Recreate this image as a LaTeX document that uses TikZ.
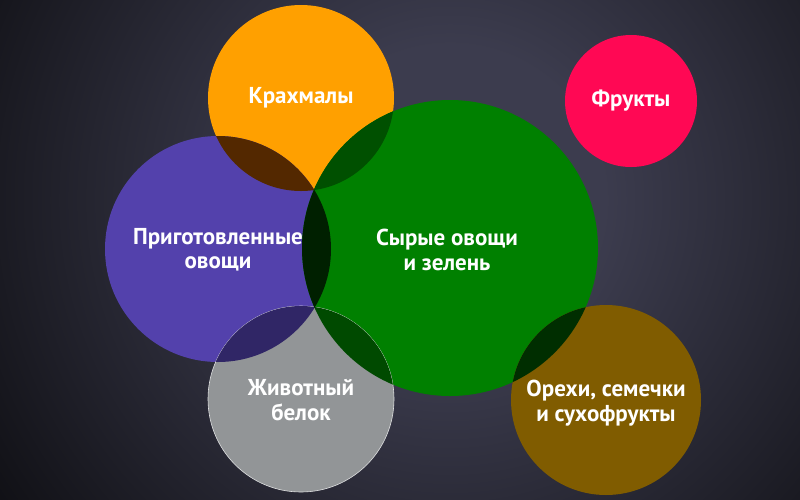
\documentclass[tikz,border=0pt]{standalone}
\usepackage{fontspec}
\setmainfont{PT Sans}
\usepackage{tikz}
\usetikzlibrary{positioning}

\definecolor{bgglow}{RGB}{60,60,78}
\definecolor{cstarch}{RGB}{255,160,0}
\definecolor{cfruit}{RGB}{255,8,84}
\definecolor{ccooked}{RGB}{83,65,172}
\definecolor{craw}{RGB}{0,128,0}
\definecolor{cprotein}{RGB}{146,149,151}
\definecolor{cnuts}{RGB}{128,92,0}
% overlaps (colour of one circle times the other)
\definecolor{ostarchcooked}{RGB}{83,40,0}
\definecolor{ostarchraw}{RGB}{0,80,0}
\definecolor{ocookedraw}{RGB}{0,32,0}
\definecolor{ocookedprotein}{RGB}{48,38,102}
\definecolor{oproteinraw}{RGB}{0,74,0}
\definecolor{onutsraw}{RGB}{0,46,0}

\pgfdeclareradialshading{glow}{\pgfpointorigin}{color(0bp)=(bgglow); color(6bp)=(bgglow); color(27bp)=(black); color(50bp)=(black)}

\begin{document}
\begin{tikzpicture}
  [
    x=1pt,y=-1pt,
    bubble/.style={
      circle,
      inner sep=0pt,
      outer sep=0pt
    },
    caption/.style={
      text=white,
      align=center,
      font=\bfseries\fontsize{23}{24.5}\selectfont
    }
  ]
    % background
    \fill [black] (0,0) rectangle (800,499);
    \begin{scope}
      \clip (0,0) rectangle (800,499);
      \shade [shading=glow] (450,200) circle (640);
    \end{scope}
    \useasboundingbox (0,0) rectangle (800,499);
    % circles
    \node [bubble,fill=cstarch,minimum size=186] (starch) at (301,98) {};
    \node [bubble,fill=cfruit,minimum size=132] (fruit) at (631,101) {};
    \node [bubble,fill=ccooked,minimum size=226] (cooked) at (218,249) {};
    \node [bubble,fill=craw,minimum size=296] (raw) at (450,248) {};
    \node [bubble,fill=cprotein,draw=white!70!cprotein,line width=.6pt,minimum size=186] (protein) at (301,399) {};
    \node [bubble,fill=cnuts,minimum size=190] (nuts) at (606,400) {};
    % overlaps
    \foreach \a/\ra/\b/\rb/\c in {
        starch/93/cooked/113/ostarchcooked,
        starch/93/raw/148/ostarchraw,
        cooked/113/protein/93/ocookedprotein,
        protein/93/raw/148/oproteinraw,
        nuts/95/raw/148/onutsraw,
        cooked/113/raw/148/ocookedraw}
    {
      \begin{scope}
        \clip (\a.center) circle (\ra);
        \fill [\c] (\b.center) circle (\rb);
      \end{scope}
    }
    % labels
    \node [caption] (starch text) at (starch.center) {Крахмалы};
    \node [caption] (fruit text) at (fruit.center) {Фрукты};
    \node [caption] (cooked text) at ([yshift=-1]cooked.center) {Приготовленные\\овощи};
    \node [caption] (raw text) at ([xshift=-3,yshift=-2]raw.center) {Сырые овощи\\и зелень};
    \node [caption] (protein text) at ([yshift=-1]protein.center) {Животный\\белок};
    \node [caption] (nuts text) at ([yshift=-3]nuts.center) {Орехи, семечки\\и сухофрукты};
  \end{tikzpicture}
\end{document}
